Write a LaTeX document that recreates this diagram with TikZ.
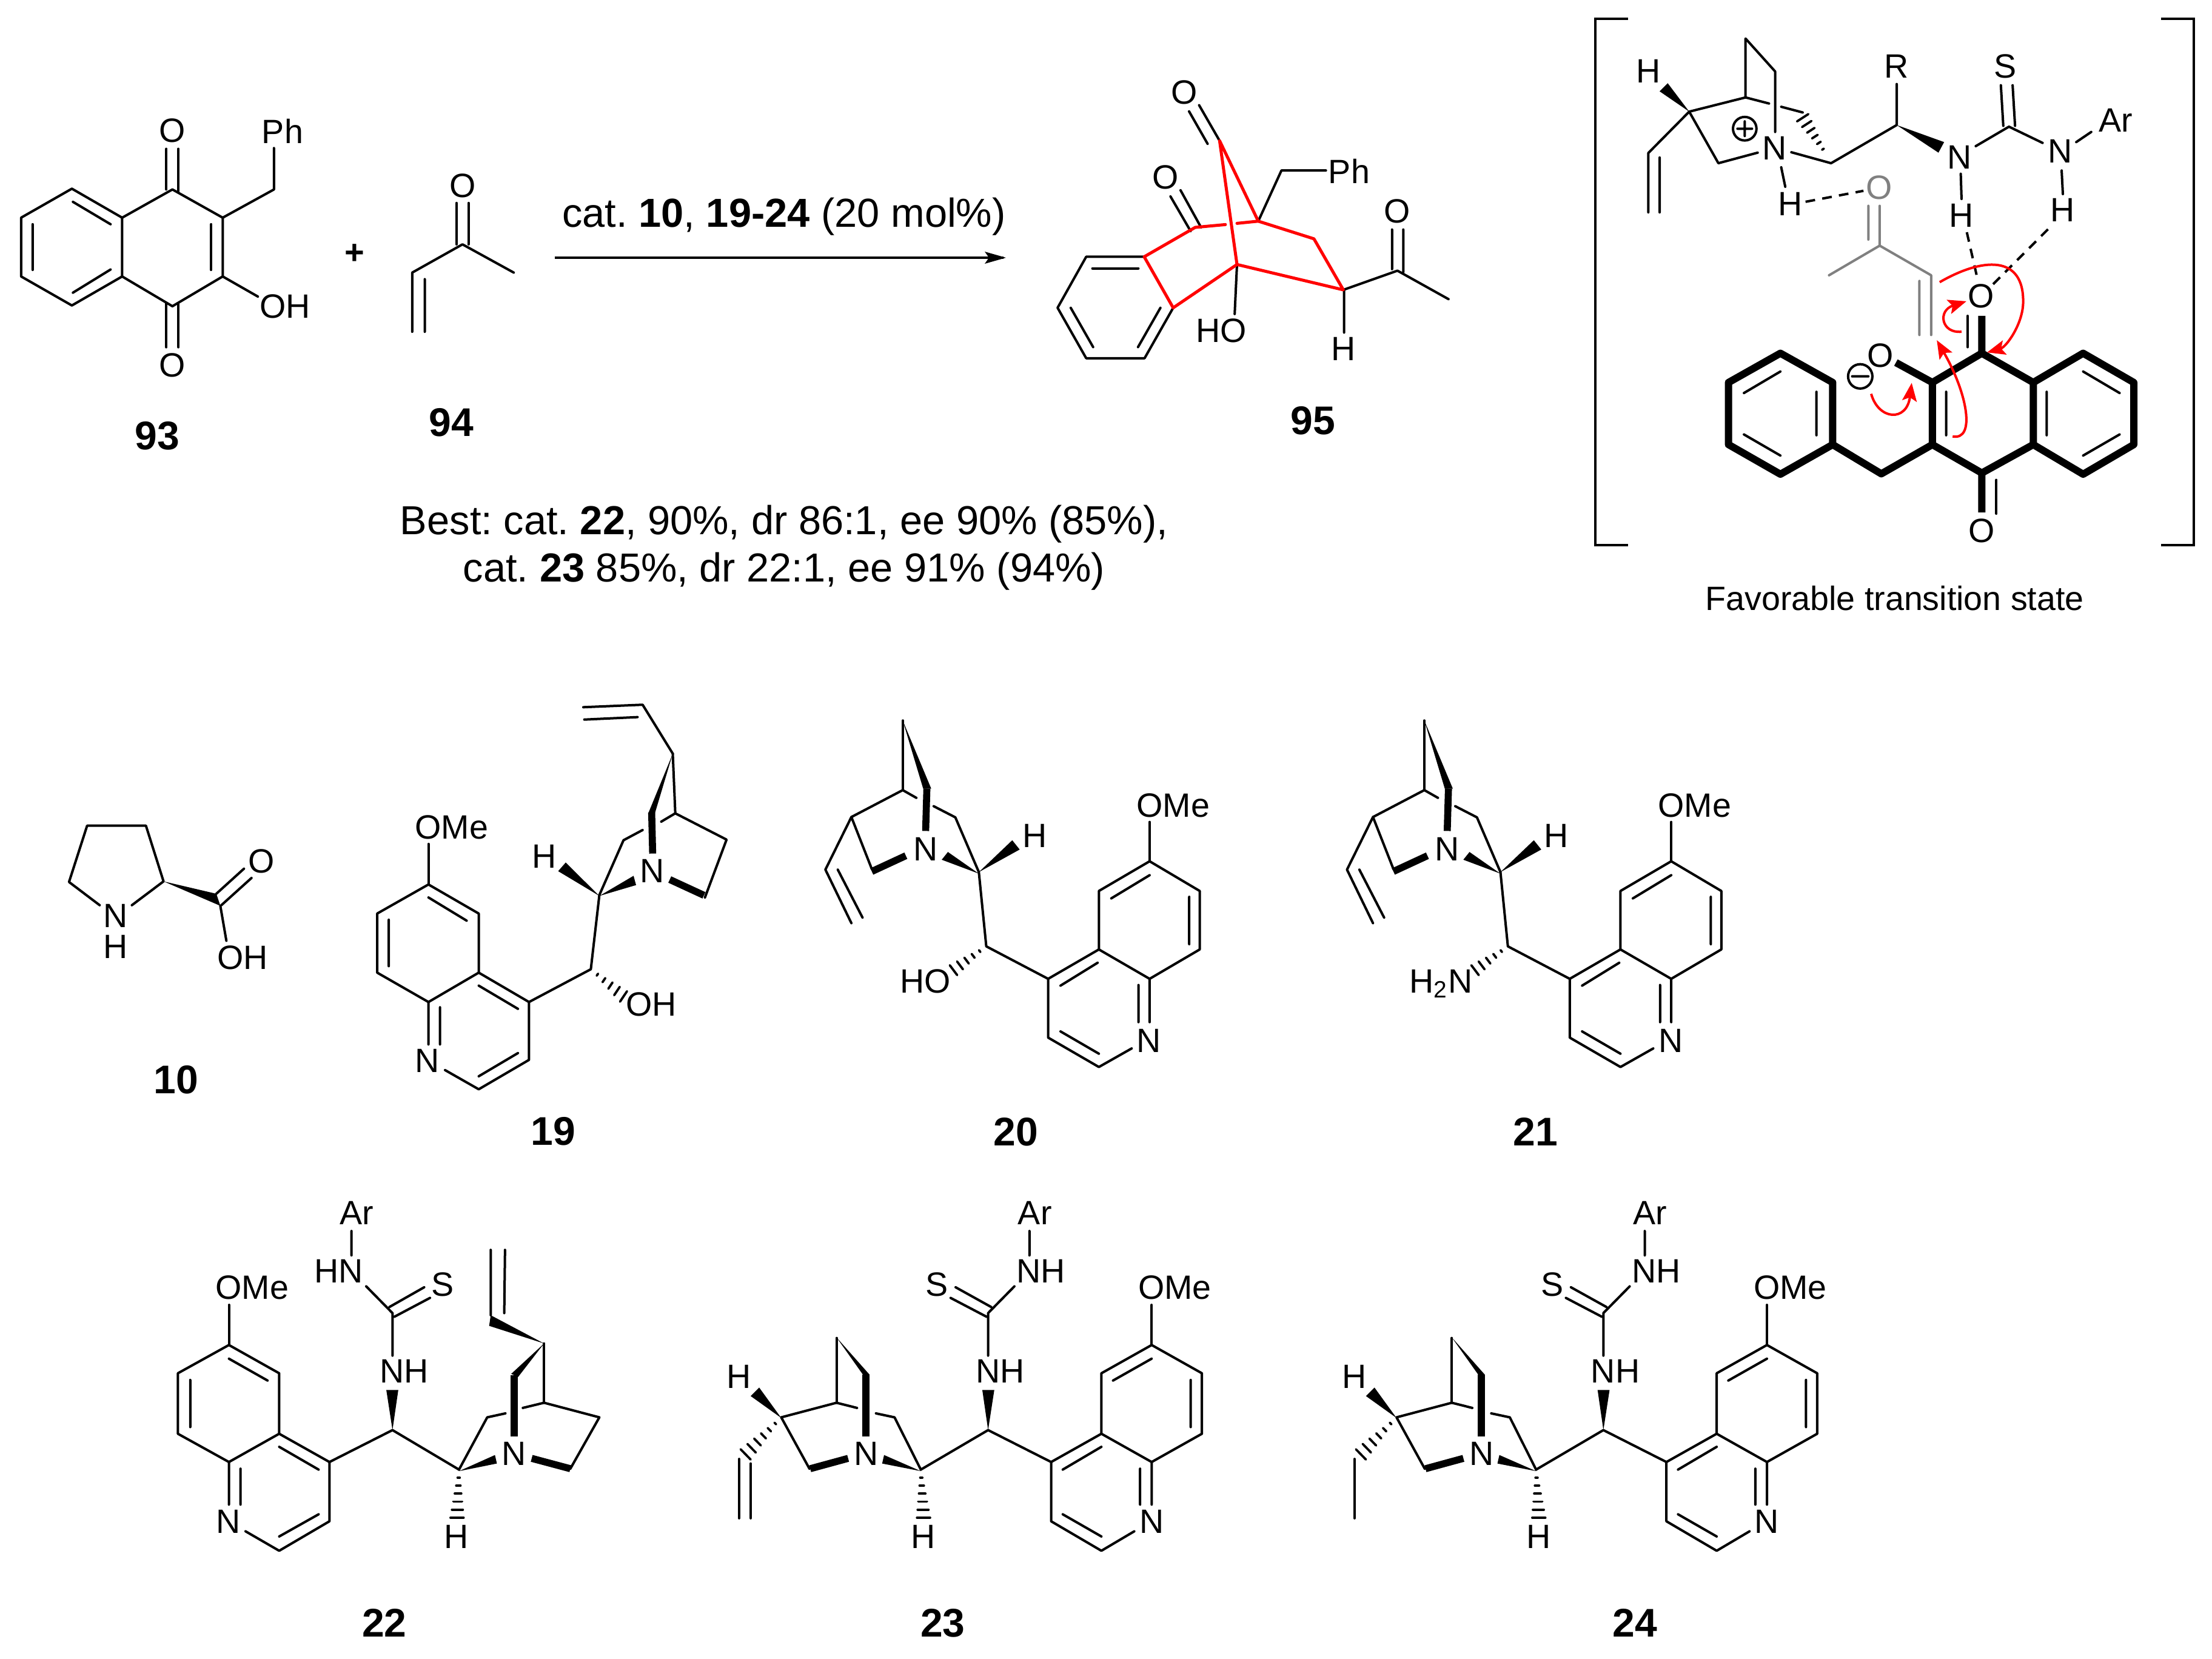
\documentclass[tikz,border=0pt]{standalone}
\usepackage{fontspec}
\setmainfont{Liberation Sans}
\usetikzlibrary{arrows.meta}
\definecolor{tsgray}{RGB}{128,128,128}
\definecolor{tsred}{RGB}{255,0,0}
\tikzset{
  view/.style n args={4}{shift={({#1*0.25pt},{-#2*0.25pt})},x={0.25pt*#3/1568},y={-0.25pt*#4/1568}},
  bond/.style={line width=1pt,line cap=round,line join=round},
  boldb/.style={line width=2.9pt,line cap=butt,line join=miter},
  tsbold/.style={line width=3pt,line cap=round,line join=round},
  redb/.style={line width=1.25pt,color=tsred,line cap=round,line join=round},
  greyb/.style={line width=1pt,color=tsgray,line cap=round,line join=round},
  dashb/.style={line width=1pt,dash pattern=on 4pt off 3pt},
  curly/.style={line width=1pt,color=tsred,-{Stealth[length=7.5pt,width=6pt,inset=1.5pt]}},
  lab/.style={inner sep=0pt,font=\fontsize{13.9}{16}\selectfont},
  num/.style={inner sep=0pt,font=\fontsize{16.5}{18}\selectfont\bfseries},
  txt/.style={inner sep=0pt,anchor=base,font=\fontsize{16.7}{19}\selectfont\frenchspacing},
}
\newcommand\wdg[3]{\fill[line join=round] (#1) -- (#2) -- (#3) -- cycle;}
\newcommand\hashb[7]{\foreach \i in {1,...,#7}{%
  \pgfmathsetmacro\tt{\i/#7}%
  \draw[line width=0.95pt,line cap=round] ({#1+\tt*(#3-#1)-\tt*#5},{#2+\tt*(#4-#2)-\tt*#6}) -- ({#1+\tt*(#3-#1)+\tt*#5},{#2+\tt*(#4-#2)+\tt*#6});}}
% catalysts 20 and 21
\newcommand\catA[1]{%
  \node[lab] (#1ome) at (622,350) {OMe};
  \node[lab] (#1nq) at (583,1110) {N};
  \node[lab] (#1h) at (398,447) {H};
  \node[lab] (#1nr) at (222,490) {N};
  \draw[bond] (584,403)--(584,530);
  \draw[bond] (584,530)--(665,626)--(665,815)--(584,910)--(502,815)--(502,626)--cycle;
  \draw[bond] (584,575)--(522,650) (648,645)--(648,798);
  \draw[bond] (502,815)--(420,910)--(420,1100)--(502,1195)--(555,1135) (584,910)--(584,1050);
  \draw[bond] (566,930)--(566,1050) (500,858)--(440,932) (440,1080)--(502,1152);
  \draw[bond] (420,910)--(320,805)--(308,565);
  \hashb{320}{805}{267}{882}{6}{16}{5}
  \wdg{308,565}{362,462}{374,492}
  \wdg{308,570}{258,500}{248,525}
  \draw[bond] (308,565)--(270,388)--(235,352) (207,325)--(185,300)--(102,387)--(135,555);
  \draw[boldb] (135,563)--(190,512);
  \draw[bond] (102,387)--(60,557)--(102,730) (80,557)--(120,712);
  \draw[bond] (185,300)--(185,75);
  \wdg{185,75}{218,295}{231,295}
  \draw[boldb] (224,295)--(222,432);
}
% catalysts 23 and 24
\newcommand\catB[1]{%
  \node[lab] (#1ome) at (1235,345) {OMe};
  \node[lab] (#1nq) at (1175,1115) {N};
  \node[lab] (#1nh) at (783,622) {NH};
  \node[lab] (#1s) at (620,335) {S};
  \node[lab] (#1hn) at (889,293) {NH};
  \node[lab] (#1ar) at (873,100) {Ar};
  \node[lab] (#1nr) at (437,893) {N};
  \node[lab] (#1hb) at (585,1165) {H};
  \node[lab] (#1h) at (108,640) {H};
  \draw[bond] (1175,403)--(1175,535);
  \draw[bond] (1175,535)--(1305,628)--(1305,827)--(1175,920)--(1045,827)--(1045,628)--cycle;
  \draw[bond] (1175,580)--(1075,652) (1276,650)--(1276,805);
  \draw[bond] (1045,827)--(915,920)--(915,1115)--(1045,1212)--(1130,1148) (1175,920)--(1175,1060);
  \draw[bond] (1145,942)--(1145,1060) (1045,870)--(945,945) (945,1092)--(1045,1165);
  \draw[bond] (915,920)--(752,815)--(578,945);
  \wdg{752,815}{737,683}{768,683}
  \draw[bond] (752,570)--(752,430)--(820,342) (760,410)--(668,345) (748,442)--(655,380) (859,240)--(859,160);
  \wdg{578,950}{483,897}{478,925}
  \draw[boldb] (390,908)--(292,942);
  \draw[bond] (290,942)--(217,773)--(360,725)--(413,742) (578,945)--(510,773)--(462,760);
  \hashb{578}{945}{585}{1103}{17}{0}{6}
  \draw[bond] (360,725)--(360,512);
  \wdg{360,510}{428,632}{445,632}
  \draw[boldb] (436,632)--(436,835);
  \wdg{217,775}{138,703}{160,675}
}
\begin{document}
\begin{tikzpicture}
\useasboundingbox (0,0) rectangle (912pt,-684pt);
\fill[white] (0,0) rectangle (912pt,-684pt);
% ---- 93, 94 and texts
\begin{scope}[view={0}{0}{1300}{1000}]
  \node[lab] (oa) at (343,338) {O};
  \node[lab] (ob) at (343,945) {O};
  \node[lab] (pha) at (562,340) {Ph};
  \node[lab] (oha) at (567,793) {OH};
  \node[num] (na) at (313,1128) {93};
  \node[inner sep=0pt,font=\fontsize{14}{16}\selectfont\bfseries] (plus) at (706,657) {+};
  \node[lab] (oc) at (920,480) {O};
  \node[num] (nb) at (898,1092) {94};
  \draw[bond] (42,563)--(143,488)--(243,563)--(243,715)--(143,790)--(42,715)--cycle;
  \draw[bond] (145,522)--(220,580) (65,580)--(65,698) (145,757)--(220,697);
  \draw[bond] (243,563)--(343,490)--(443,563)--(443,715)--(343,792)--(243,715);
  \draw[bond] (420,580)--(420,698);
  \draw[bond] (331,385)--(331,490) (355,385)--(355,498) (331,785)--(331,898) (355,785)--(355,898);
  \draw[bond] (443,563)--(545,490)--(545,383) (443,715)--(513,767);
  \draw[bond] (908,525)--(908,632) (932,525)--(932,632);
  \draw[bond] (820,858)--(820,705)--(920,632)--(1022,705) (845,722)--(845,858);
\end{scope}
\begin{scope}[view={0}{0}{1568}{1568}]
  \coordinate (arrs) at (915,425);
  \coordinate (arre) at (1655,425);
  \draw[line width=1pt] (arrs) -- (arre);
  \fill (1659,425) -- (1624,415) -- (1631,425) -- (1624,435) -- cycle;
  \node[txt] (cond) at (1293,375) {cat. \textbf{10}, \textbf{19-24} (20 mol\%)};
  \node[txt] (besta) at (1293,882) {Best: cat. \textbf{22}, 90\%, dr 86:1, ee 90\% (85\%),};
  \node[txt] (bestb) at (1293,960) {cat. \textbf{23} 85\%, dr 22:1, ee 91\% (94\%)};
\end{scope}
% ---- 95
\begin{scope}[view={1600}{0}{1000}{800}]
  \node[lab] (pd) at (553,298) {O};
  \node[lab] (pe) at (505,573) {O};
  \node[lab] (pph) at (980,553) {Ph};
  \node[lab] (pho) at (650,1068) {HO};
  \node[lab] (ph) at (965,1127) {H};
  \node[lab] (pf) at (1104,683) {O};
  \node[num] (nc) at (886,1360) {95};
  \draw[bond] (450,830)--(300,830)--(226,995)--(300,1158)--(451,1158)--(525,995);
  \draw[bond] (316,868)--(435,868) (260,995)--(318,1122) (492,995)--(434,1122);
  \draw[bond] (645,455)--(592,340) (614,465)--(566,360) (597,735)--(544,615) (570,747)--(518,635);
  \draw[bond] (745,715)--(805,551)--(920,551) (690,855)--(684,1015) (967,937)--(967,1075);
  \draw[bond] (965,937)--(1105,875)--(1237,967) (1091,742)--(1091,870) (1120,742)--(1120,880);
  \draw[redb] (525,995)--(450,830)--(582,735)--(660,726) (690,722)--(745,715)--(889,772)--(965,937)--(690,855)--(525,995);
  \draw[redb] (690,855)--(645,455)--(745,715);
\end{scope}
% ---- transition state
\begin{scope}[view={2600}{0}{1048}{1050}]
  \draw[line width=1pt] (127,47)--(46,47)--(46,1343)--(127,1343) (1442,47)--(1523,47)--(1523,1343)--(1442,1343);
  \node[lab] (th) at (177,175) {H};
  \node[lab] (tn) at (488,365) {N};
  \node[lab] (tr) at (790,163) {R};
  \node[lab] (ts) at (1058,163) {S};
  \node[lab] (tnb) at (945,387) {N};
  \node[lab] (tnc) at (1193,373) {N};
  \node[lab] (tar) at (1330,297) {Ar};
  \node[lab] (thb) at (527,502) {H};
  \node[lab] (thc) at (950,530) {H};
  \node[lab] (thd) at (1200,518) {H};
  \node[lab,text=tsgray] (tog) at (747,462) {O};
  \node[lab] (toa) at (998,730) {O};
  \node[lab] (tob) at (750,875) {O};
  \node[lab] (toc) at (1000,1307) {O};
  \node[lab] (cap) at (785,1473) {Favorable transition state};
  \wdg{278,275}{205,225}{225,205}
  \draw[bond] (278,275)--(417,240)--(417,95)--(490,176)--(490,325) (417,240)--(475,255) (505,263)--(558,277);
  \hashb{618}{383}{558}{290}{14}{-9}{6}
  \draw[bond] (278,275)--(177,377)--(177,523) (205,388)--(205,523) (278,275)--(350,402)--(447,376);
  \draw[bond] (530,375)--(628,402)--(790,308)--(790,207);
  \wdg{790,308}{907,350}{893,376}
  \draw[bond] (985,360)--(1067,312)--(1150,352) (1053,310)--(1047,210) (1082,310)--(1076,210) (1233,350)--(1270,325);
  \draw[bond] (1197,420)--(1200,478) (948,428)--(950,490) (505,412)--(515,460);
  \draw[bond] (415,317) circle[radius=29] (397,317)--(433,317) (415,299)--(415,335);
  \draw[bond] (700,927) circle[radius=30] (680,927)--(720,927);
  \draw[dashb] (565,497)--(708,470) (963,572)--(990,690) (1028,700)--(1170,558);
  \draw[greyb] (720,507)--(720,590) (748,507)--(748,605) (623,678)--(748,605)--(875,678)--(875,825) (846,692)--(846,825);
  \draw[tsbold] (503,870)--(632,942)--(632,1095)--(503,1168)--(375,1095)--(375,942)--cycle;
  \draw[tsbold] (632,1095)--(752,1167)--(878,1095);
  \draw[tsbold] (878,942)--(1000,870)--(1127,942)--(1127,1095)--(1000,1165)--(878,1095)--cycle;
  \draw[tsbold] (1127,942)--(1250,870)--(1375,942)--(1375,1095)--(1250,1168)--(1127,1095);
  \draw[tsbold,line cap=butt] (1000,778)--(1000,870) (1000,1165)--(1000,1262) (788,893)--(878,942);
  \draw[bond] (413,968)--(503,915) (592,965)--(592,1072) (413,1070)--(503,1122) (912,965)--(912,1072);
  \draw[bond] (1160,965)--(1160,1072) (1250,915)--(1340,968) (1250,1122)--(1340,1070);
  \draw[bond] (965,778)--(965,855) (1036,1182)--(1036,1265);
  \draw[curly] (727,970) .. controls (745,1035) and (815,1040) .. (827,943);
  \draw[curly] (928,1075) .. controls (985,1085) and (965,970) .. (889,838);
  \draw[curly] (896,695) .. controls (1000,635) and (1105,625) .. (1102,747) .. controls (1100,800) and (1060,855) .. (1013,868);
  \draw[curly] (950,817) .. controls (900,822) and (890,765) .. (962,742);
\end{scope}
% ---- 10 and 19
\begin{scope}[view={50}{1100}{1300}{800}]
  \node[lab] (an) at (170,805) {N};
  \node[lab] (ah) at (170,905) {H};
  \node[lab] (ao) at (460,627) {O};
  \node[lab] (aoh) at (422,940) {OH};
  \node[num] (nd) at (290,1335) {10};
  \draw[bond] (138,770)--(77,695)--(113,513)--(230,513)--(265,693)--(202,770);
  \wdg{265,693}{370,733}{378,772}
  \draw[bond] (370,733)--(425,652) (380,770)--(440,682) (378,772)--(390,885);
  \node[lab] (bome) at (838,518) {OMe};
  \node[lab] (bnq) at (790,1272) {N};
  \node[lab] (boh) at (1235,1090) {OH};
  \node[lab] (bh) at (1022,612) {H};
  \node[lab] (bnr) at (1237,660) {N};
  \node[num] (ne) at (1040,1500) {19};
  \draw[bond] (792,572)--(792,703);
  \draw[bond] (792,703)--(892,797)--(892,988)--(792,1083)--(690,988)--(690,797)--cycle;
  \draw[bond] (792,745)--(868,820) (713,817)--(713,967);
  \draw[bond] (892,988)--(992,1083)--(992,1270)--(892,1365)--(825,1303) (792,1083)--(792,1220);
  \draw[bond] (815,1100)--(815,1220) (892,1323)--(970,1248) (892,1030)--(970,1105);
  \draw[bond] (992,1083)--(1115,977)--(1132,737);
  \hashb{1115}{977}{1180}{1065}{7}{-17}{5}
  \wdg{1132,740}{1050,660}{1065,632}
  \wdg{1132,740}{1200,675}{1205,705}
  \draw[bond] (1132,737)--(1180,560)--(1218,527) (1255,500)--(1283,473)--(1385,558)--(1342,745);
  \draw[boldb] (1272,687)--(1340,738);
  \draw[bond] (1283,473)--(1278,280);
  \wdg{1278,280}{1230,470}{1243,470}
  \draw[boldb] (1236,470)--(1238,603);
  \draw[bond] (1278,280)--(1218,122)--(1100,130) (1208,162)--(1102,170);
\end{scope}
% ---- 20, 21
\begin{scope}[view={1300}{1150}{1600}{800}]
  \catA{c}
  \node[lab] (choh) at (222,918) {HO};
  \node[num] (nf) at (368,1405) {20};
\end{scope}
\begin{scope}[view={2160.2}{1150}{1600}{800}]
  \catA{d}
  \node[lab,anchor=base] (dnh) at (212,955) {H\textsubscript{2}N};
  \node[num] (ng) at (365,1405) {21};
\end{scope}
% ---- 22
\begin{scope}[view={250}{1950}{1000}{786}]
  \node[lab] (eome) at (260,345) {OMe};
  \node[lab] (enq) at (198,1115) {N};
  \node[lab] (enh) at (653,622) {NH};
  \node[lab] (es) at (752,335) {S};
  \node[lab] (ehn) at (484,293) {HN};
  \node[lab] (ear) at (530,100) {Ar};
  \node[lab] (enr) at (937,893) {N};
  \node[lab] (eh) at (788,1165) {H};
  \node[num] (nh) at (602,1450) {22};
  \draw[bond] (200,403)--(200,535);
  \draw[bond] (200,535)--(330,628)--(330,827)--(200,920)--(68,827)--(68,628)--cycle;
  \draw[bond] (200,580)--(300,652) (100,650)--(100,805);
  \draw[bond] (330,827)--(460,920)--(460,1115)--(330,1212)--(243,1148) (200,920)--(200,1060);
  \draw[bond] (230,942)--(230,1060) (330,870)--(432,945) (330,1165)--(432,1092);
  \draw[bond] (460,920)--(623,815)--(795,945);
  \wdg{623,815}{607,683}{638,683}
  \draw[bond] (623,570)--(623,430)--(555,342) (615,410)--(705,345) (628,442)--(720,380) (517,240)--(517,160);
  \wdg{795,950}{888,897}{893,925}
  \draw[boldb] (983,908)--(1083,942);
  \draw[bond] (1083,942)--(1158,773)--(1015,725)--(960,742) (795,945)--(868,773)--(915,760);
  \hashb{795}{945}{790}{1103}{17}{0}{6}
  \draw[bond] (1015,725)--(1015,530);
  \wdg{1015,530}{930,630}{948,640}
  \draw[boldb] (938,635)--(938,835);
  \wdg{1015,530}{873,472}{877,437}
  \draw[bond] (877,437)--(877,222) (912,430)--(914,222);
\end{scope}
% ---- 23
\begin{scope}[view={1150}{1950}{1000}{786}]
  \catB{f}
  \hashb{217}{773}{125}{895}{13}{17}{6}
  \draw[bond] (108,910)--(108,1105) (138,925)--(138,1105);
  \node[num] (ni) at (635,1450) {23};
\end{scope}
% ---- 24
\begin{scope}[view={2164.7}{1950}{1000}{786}]
  \catB{g}
  \hashb{217}{773}{125}{895}{13}{17}{6}
  \draw[bond] (108,910)--(108,1105);
  \node[num] (nj) at (834,1450) {24};
\end{scope}
\end{tikzpicture}
\end{document}
